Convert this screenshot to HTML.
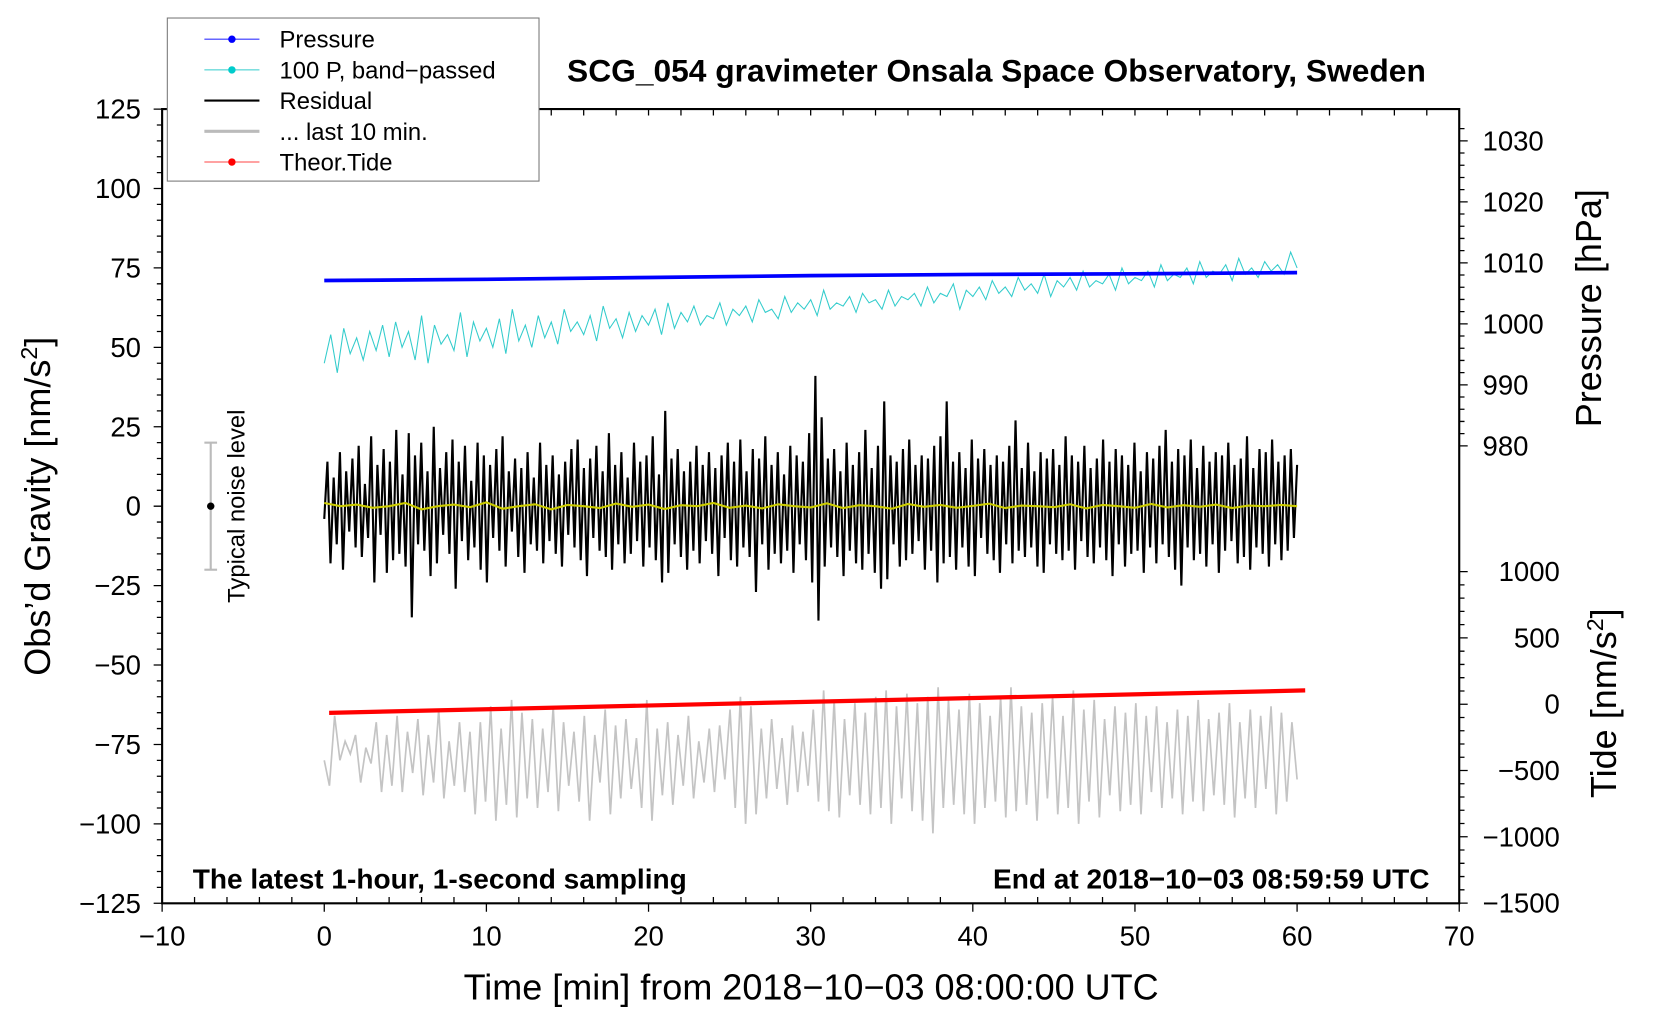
<!DOCTYPE html>
<html><head><meta charset="utf-8"><style>
html,body{margin:0;padding:0;background:#fff}
svg{display:block}
text{font-family:"Liberation Sans",sans-serif;fill:#000}
</style></head><body>
<svg id="chart" width="1660" height="1020" viewBox="0 0 1567.6 963.2" xmlns="http://www.w3.org/2000/svg">
<g id="marks"></g>
<g id="axes"></g>
<text x="941" y="77" text-anchor="middle" font-size="30" font-weight="bold">SCG_054 gravimeter Onsala Space Observatory, Sweden</text>
<text x="182" y="839" font-size="26.5" font-weight="bold">The latest 1-hour, 1-second sampling</text>
<text x="1350" y="839" text-anchor="end" font-size="26.5" font-weight="bold">End at 2018−10−03 08:59:59 UTC</text>
<text x="766" y="944" text-anchor="middle" font-size="34">Time [min] from 2018−10−03 08:00:00 UTC</text>
<text transform="translate(47,478) rotate(-90)" text-anchor="middle" font-size="34">Obs’d Gravity [nm/s<tspan dy="-12" font-size="22">2</tspan><tspan dy="12">]</tspan></text>
<text transform="translate(1512,291) rotate(-90)" text-anchor="middle" font-size="34">Pressure [hPa]</text>
<text transform="translate(1526,664) rotate(-90)" text-anchor="middle" font-size="34">Tide [nm/s<tspan dy="-12" font-size="22">2</tspan><tspan dy="12">]</tspan></text>
<g>
<line x1="199" y1="418" x2="199" y2="538" stroke="#bbb" stroke-width="2"/>
<line x1="193" y1="418" x2="205" y2="418" stroke="#bbb" stroke-width="2"/>
<line x1="193" y1="538" x2="205" y2="538" stroke="#bbb" stroke-width="2"/>
<circle cx="199" cy="478" r="3.5" fill="#000"/>
<text transform="translate(231,478) rotate(-90)" text-anchor="middle" font-size="22.5">Typical noise level</text>
</g>
<g>
<rect x="158" y="17" width="351" height="154" fill="#fff" stroke="#777" stroke-width="1"/>
<g><line x1="193" y1="37" x2="245" y2="37" stroke="#33f" stroke-width="1"/><circle cx="219" cy="37" r="3.5" fill="#00f"/><text x="264" y="45" font-size="22.5">Pressure</text></g>
<g><line x1="193" y1="66" x2="245" y2="66" stroke="#3cc" stroke-width="1"/><circle cx="219" cy="66" r="3.5" fill="#0cc"/><text x="264" y="74" font-size="22.5">100 P, band−passed</text></g>
<g><line x1="193" y1="95" x2="245" y2="95" stroke="#000" stroke-width="2"/><text x="264" y="103" font-size="22.5">Residual</text></g>
<g><line x1="193" y1="124" x2="245" y2="124" stroke="#bbb" stroke-width="3"/><text x="264" y="132" font-size="22.5">... last 10 min.</text></g>
<g><line x1="193" y1="153" x2="245" y2="153" stroke="#f44" stroke-width="1"/><circle cx="219" cy="153" r="3.5" fill="#f00"/><text x="264" y="161" font-size="22.5">Theor.Tide</text></g>
</g>
</svg>
<script>
const xTicks=[-10,0,10,20,30,40,50,60,70];
const yTicks=[125,100,75,50,25,0,-25,-50,-75,-100,-125];
const pTicks=[1030,1020,1010,1000,990,980];
const tTicks=[1000,500,0,-500,-1000,-1500];
const pressureTime=[0,10,20,30,40,50,60];
const pressureVal=[1007.1,1007.3,1007.6,1007.9,1008.1,1008.2,1008.4];
const tideTime=[0.3,60.5];
const tideVal=[-65,104];
const residualVal=[-4,14,-18,9,-12,17,-20,11,-8,15,-13,19,-16,7,-10,22,-24,13,-9,18,-21,14,-17,24,-15,10,-19,23,-35,16,-12,20,-14,11,-22,25,-18,12,-9,17,
-15,21,-26,14,-11,19,-17,8,-13,20,-20,16,-24,13,-10,18,-14,22,-19,11,-8,15,-16,12,-21,17,-12,9,-14,20,-18,13,-11,16,-15,10,-19,14,-9,18,
-13,21,-17,12,-22,15,-10,19,-14,11,-16,23,-20,13,-12,17,-18,9,-15,20,-11,14,-19,16,-13,22,-17,10,-24,30,-21,15,-12,18,-16,11,-20,14,-14,19,
-18,13,-11,17,-15,12,-22,16,-10,20,-17,14,-19,21,-13,11,-16,18,-27,15,-12,22,-20,13,-15,17,-18,10,-14,19,-21,16,-12,14,-17,23,-24,41,-36,28,
-19,15,-13,18,-16,11,-22,20,-14,13,-18,17,-20,24,-15,12,-21,19,-26,33,-23,16,-12,14,-19,18,-17,21,-15,13,-11,16,-20,15,-14,19,-24,22,-18,33,
-16,14,-20,17,-13,12,-19,21,-22,15,-10,18,-15,13,-17,16,-21,14,-12,19,-18,27,-14,12,-16,20,-13,11,-19,17,-21,15,-12,18,-15,13,-17,22,-14,16,
-20,14,-11,19,-16,12,-18,15,-13,21,-17,14,-22,18,-12,16,-19,13,-15,20,-14,11,-21,17,-13,15,-18,19,-12,24,-16,14,-20,18,-25,16,-13,21,-17,12,
-15,19,-19,14,-12,17,-21,16,-14,20,-11,13,-18,15,-16,22,-20,12,-13,18,-15,17,-19,21,-12,14,-17,16,-14,18,-10,13];
const bandVal=[45,54,42,56,48,53,46,55,49,57,47,58,50,55,46,60,45,57,51,54,49,61,47,58,52,56,50,59,48,62,52,57,50,60,53,58,51,62,55,58,
54,60,52,63,56,59,53,61,55,60,57,62,54,64,56,61,58,63,57,60,59,64,57,62,60,63,58,65,61,62,59,66,61,64,62,65,60,68,62,64,
63,66,61,67,64,65,62,68,63,66,65,67,63,69,64,67,66,70,62,68,66,69,65,71,67,69,66,72,68,70,67,73,66,71,69,72,68,74,69,71,
70,73,68,75,70,72,71,74,69,76,71,73,72,75,70,77,72,74,73,76,71,78,73,75,72,77,74,76,73,80,75];
const yellowVal=[1,0,0.5,-0.5,0,1,-1,0,0.5,-0.3,1.2,-0.8,0,0.6,-1,0.4,0,-0.6,0.8,-0.2,0.5,-0.9,0.3,0,1,-0.5,0.2,-0.7,0.6,0,-0.4,0.9,-0.6,0.3,0,-0.8,0.7,-0.2,0.4,-0.5,0.1,0.8,-0.6,0.2,0,-0.3,0.6,-0.7,0.4,0,-0.5,0.7,-0.4,0.3,-0.2,0.5,-0.6,0.2,0,0.4,0];
const greyVal=[-80,-88,-66,-80,-74,-78,-72,-87,-76,-81,-68,-90,-72,-88,-66,-90,-71,-84,-67,-91,-72,-87,-64,-92,-74,-88,-68,-90,-71,-97,-68,-93,-63,-99,-70,-94,-61,-98,-65,-92,
-67,-95,-70,-90,-63,-96,-68,-88,-71,-93,-66,-99,-72,-87,-64,-97,-69,-92,-67,-89,-73,-95,-61,-99,-70,-91,-68,-94,-72,-88,-66,-92,-74,-87,-70,-90,-69,-86,-64,-95,
-60,-100,-63,-97,-70,-92,-67,-89,-73,-94,-69,-90,-71,-88,-64,-93,-58,-96,-61,-98,-67,-91,-62,-94,-65,-97,-60,-95,-58,-100,-63,-92,-59,-96,-62,-99,-60,-103,-57,-95,
-61,-94,-64,-97,-59,-100,-62,-95,-66,-93,-60,-98,-57,-96,-63,-94,-65,-99,-62,-92,-60,-97,-66,-95,-58,-100,-64,-93,-61,-98,-67,-91,-63,-96,-65,-94,-62,-97,-66,-90,
-63,-95,-68,-92,-64,-97,-66,-93,-61,-96,-67,-91,-65,-94,-62,-98,-68,-92,-64,-95,-66,-89,-63,-97,-65,-93,-68,-86];
const NS='http://www.w3.org/2000/svg';
const L=153.1,R=1378,T=103,B=853;
function xs(t){return L+(t+10)*(R-L)/80;}
function ys(v){return B-(v+125)*(B-T)/250;}
function yp(p){return 133+(1030-p)*5.76;}
function yt(v){return 665-v*0.1252;}
const marks=document.getElementById('marks'),axes=document.getElementById('axes');
function mk(tag,attrs,parent){const e=document.createElementNS(NS,tag);for(const k in attrs)e.setAttribute(k,attrs[k]);parent.appendChild(e);return e;}
function series(vals,t0,t1,yf){const n=vals.length;return vals.map((v,i)=>xs(t0+(t1-t0)*i/(n-1)).toFixed(1)+','+yf(v).toFixed(1)).join(' ');}
let e;
e=mk('polyline',{points:series(greyVal,0,60,ys),fill:'none',stroke:'#c4c4c4','stroke-width':1.6},marks);


e=mk('polyline',{points:tideTime.map((t,i)=>xs(t)+','+yt(tideVal[i])).join(' '),fill:'none',stroke:'#f00','stroke-width':4},marks);


e=mk('polyline',{points:series(residualVal,0,60,ys),fill:'none',stroke:'#000','stroke-width':2},marks);


e=mk('polyline',{points:series(yellowVal,0,60,ys),fill:'none',stroke:'#cc0','stroke-width':2},marks);


e=mk('polyline',{points:series(bandVal,0,60,ys),fill:'none',stroke:'#3cc','stroke-width':1},marks);


e=mk('polyline',{points:pressureTime.map((t,i)=>xs(t)+','+yp(pressureVal[i])).join(' '),fill:'none',stroke:'#00f','stroke-width':3.5},marks);


e=mk('path',{d:`M${L},${T}H${R}V${B}H${L}Z`,fill:'none',stroke:'#000','stroke-width':2},axes);


let d='';
for(let t=-10;t<=70;t+=2){const big=t%10===0;d+=`M${xs(t)},${B}v${big?-0:-6}M${xs(t)},${B}v${big?8:0}`;d+=`M${xs(t)},${T}v6`;}
for(let v=-125;v<=125;v+=5){const big=v%25===0;d+=`M${L},${ys(v)}h${big?-8:-5}`;}
for(let p=980;p<=1032;p+=2){const big=p%10===0;d+=`M${R},${yp(p)}h${big?8:5}`;}
for(let v=-1500;v<=1000;v+=100){const big=v%500===0;d+=`M${R},${yt(v)}h${big?8:5}`;}
mk('path',{d:d,stroke:'#000','stroke-width':1.2,fill:'none'},axes);
xTicks.forEach(t=>{const s=mk('text',{x:xs(t),y:B+40,'text-anchor':'middle','font-size':26},axes);s.textContent=String(t).replace('-','−');

});
yTicks.forEach(v=>{const s=mk('text',{x:L-20,y:ys(v)+9,'text-anchor':'end','font-size':26},axes);s.textContent=String(v).replace('-','−');

});
pTicks.forEach(p=>{const s=mk('text',{x:R+22,y:yp(p)+9,'font-size':26},axes);s.textContent=p;

});
tTicks.forEach(v=>{const s=mk('text',{x:R+95,y:yt(v)+9,'text-anchor':'end','font-size':26},axes);s.textContent=String(v).replace('-','−');

});
</script>
</body></html>
